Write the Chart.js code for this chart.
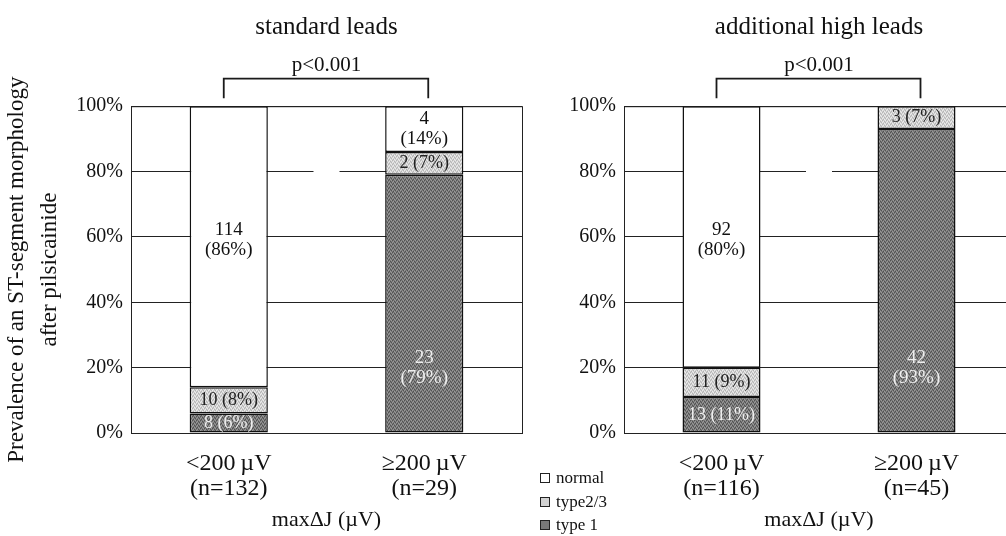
<!DOCTYPE html>
<html>
<head>
<meta charset="utf-8">
<script src="https://cdn.jsdelivr.net/npm/chart.js@4/dist/chart.umd.min.js"></script>
<style>
  body{margin:0;background:#fff;}
  #wrap{position:relative;width:1006px;height:536px;overflow:hidden;background:#fff;}
  .pane{position:absolute;top:0;}
  #legend{position:absolute;left:540px;top:466px;font:17px "Liberation Serif","DejaVu Serif",serif;color:#111;line-height:23.5px;}
  #legend span.sw{display:inline-block;width:8px;height:8px;border:1px solid #222;margin-right:6px;vertical-align:0px;}
</style>
</head>
<body>
<div id="wrap">
  <div class="pane" style="left:0"><canvas id="grafStd" width="530" height="536"></canvas></div>
  <div class="pane" style="left:530px"><canvas id="grafHigh" width="500" height="536"></canvas></div>
  <div id="legend"></div>
</div>
<script>
// categories (x axis, two lines each)
const catStd = [['<200\u2009µV','(n=132)'], ['≥200\u2009µV','(n=29)']];
const catHigh = [['<200\u2009µV','(n=116)'], ['≥200\u2009µV','(n=45)']];
const seriesNames = ['type 1','type2/3','normal'];
const yTicks = [0,20,40,60,80,100];

// standard leads: % of patients (bar height) and patient counts
const stdType1 = [6, 79];
const stdType23 = [8, 7];
const stdNormal = [86, 14];
const stdCntType1 = [8, 23];
const stdCntType23 = [10, 2];
const stdCntNormal = [114, 4];

// additional high leads
const highType1 = [11, 93];
const highType23 = [9, 7];
const highNormal = [80, 0];
const highCntType1 = [13, 42];
const highCntType23 = [11, 3];
const highCntNormal = [92, 0];

const FONT = '"Liberation Serif","DejaVu Serif",serif';
const INK = '#111';

// grainy fill like a scanned halftone
function grain(base, dark, light){
  let c = document.createElement('canvas'); c.width = c.height = 4;
  let g = c.getContext('2d');
  g.fillStyle = base; g.fillRect(0,0,4,4);
  g.fillStyle = dark; [[0,0],[2,1],[1,3],[3,2]].forEach(p=>g.fillRect(p[0],p[1],1,1));
  g.fillStyle = light; [[2,3],[0,2],[3,0],[1,1]].forEach(p=>g.fillRect(p[0],p[1],1,1));
  return g.createPattern(c,'repeat');
}
const fillType1 = grain('#787878','#525252','#9a9a9a');
const fillType23 = grain('#d2d2d2','#b4b4b4','#ececec');

// plot frame + the small break in the 80% line
const frame = {
  id:'frame',
  beforeDatasetsDraw(chart){
    let {ctx, chartArea:a} = chart;
    let y80 = chart.scales.y.getPixelForValue(80);
    let cx = (a.left+a.right)/2;
    ctx.save();
    ctx.fillStyle = '#fff';
    ctx.fillRect(cx-13, y80-2, 26, 4);
    ctx.strokeStyle = '#222'; ctx.lineWidth = 1;
    ctx.strokeRect(a.left+0.5, a.top+0.5, a.right-a.left, a.bottom-a.top);
    ctx.restore();
  }
};

// counts and percentages written into the segments
const barLabels = {
  id:'barLabels',
  afterDatasetsDraw(chart){
    let ctx = chart.ctx, ys = chart.scales.y;
    ctx.save();
    ctx.textAlign = 'center'; ctx.textBaseline = 'middle';
    chart.data.datasets.forEach((ds,di)=>{
      chart.getDatasetMeta(di).data.forEach((bar,i)=>{
        let v = ds.data[i];
        if(!v) return;
        let cy = v > 40 ? ys.getPixelForValue(ds.bigLabelAt) : (bar.y+bar.base)/2;
        let lines = v >= 12 ? [String(ds.counts[i]), '('+v+'%)'] : [ds.counts[i]+' ('+v+'%)'];
        ctx.fillStyle = ds.labelColor;
        ctx.font = (v >= 12 ? 19 : 18)+'px '+FONT;
        let lh = 20, y0 = cy - (lines.length-1)*lh/2;
        lines.forEach((t,k)=>ctx.fillText(t, bar.x, y0+k*lh));
      });
    });
    ctx.restore();
  }
};

// significance bracket between the two bars
const bracket = {
  id:'bracket',
  afterDraw(chart){
    let {ctx, chartArea:a} = chart, xs = chart.scales.x;
    let x1 = xs.getPixelForValue(0)-5, x2 = xs.getPixelForValue(1)+4;
    let yTop = a.top-27.5, yEnd = a.top-8;
    ctx.save();
    ctx.strokeStyle = '#1a1a1a'; ctx.lineWidth = 1.8;
    ctx.beginPath();
    ctx.moveTo(x1,yEnd); ctx.lineTo(x1,yTop); ctx.lineTo(x2,yTop); ctx.lineTo(x2,yEnd);
    ctx.stroke();
    ctx.restore();
  }
};

function makeDatasets(t1, t23, nor, c1, c23, cn){
  return [
    {label:seriesNames[0], data:t1, counts:c1, backgroundColor:fillType1, labelColor:'#eee', bigLabelAt:20},
    {label:seriesNames[1], data:t23, counts:c23, backgroundColor:fillType23, labelColor:'#222', bigLabelAt:50},
    {label:seriesNames[2], data:nor, counts:cn, backgroundColor:'#fff', labelColor:INK, bigLabelAt:59}
  ].map(d=>Object.assign(d,{borderColor:'#111', borderWidth:1.5, borderSkipped:false, barPercentage:0.4, categoryPercentage:1}));
}

function makeChart(id, title, cats, datasets, yAxisW, padRight, yTitle){
  return new Chart(document.getElementById(id).getContext('2d'), {
    type:'bar',
    data:{labels:cats, datasets:datasets},
    plugins:[frame, barLabels, bracket],
    options:{
      responsive:false, animation:false,
      layout:{padding:{left:0, right:padRight, top:0, bottom:0}},
      plugins:{
        legend:{display:false}, tooltip:{enabled:false},
        title:{display:true, text:title, fullSize:false, color:INK, font:{family:FONT, size:25, weight:'normal'}, padding:{top:12, bottom:11}},
        subtitle:{display:true, text:'p<0.001', fullSize:false, color:INK, font:{family:FONT, size:21}, padding:{top:0, bottom:28}}
      },
      scales:{
        x:{
          stacked:true,
          grid:{display:false}, border:{display:false},
          ticks:{color:INK, font:{family:FONT, size:24, lineHeight:1.05}, padding:10, maxRotation:0},
          title:{display:true, text:'maxΔJ (µV)', color:INK, font:{family:FONT, size:22}, padding:{top:0, bottom:3}},
          afterFit(s){ s.height = 103; }
        },
        y:{
          stacked:true, min:0, max:100,
          afterBuildTicks(s){ s.ticks = yTicks.map(v=>({value:v})); },
          grid:{color:'#222', lineWidth:1, drawTicks:false}, border:{display:false},
          ticks:{color:INK, font:{family:FONT, size:20}, padding:8, callback:v=>v+'%'},
          title:{display:!!yTitle, text:yTitle||'', color:INK, font:{family:FONT, size:23, lineHeight:1.43}, padding:{top:1, bottom:0}},
          afterFit(s){ s.width = yAxisW; }
        }
      }
    }
  });
}

window.grafStd = makeChart('grafStd', 'standard leads', catStd,
  makeDatasets(stdType1, stdType23, stdNormal, stdCntType1, stdCntType23, stdCntNormal), 131, 8,
  ['Prevalence of an ST-segment morphology','after pilsicainide']);
window.grafHigh = makeChart('grafHigh', 'additional high leads', catHigh,
  makeDatasets(highType1, highType23, highNormal, highCntType1, highCntType23, highCntNormal), 94, 16, null);

// legend, top entry first
const swatch = ['#787878','#d2d2d2','#fff'];
document.getElementById('legend').innerHTML = seriesNames.map((n,i)=>
  `<div><span class="sw" style="background:${swatch[i]}"></span>${n}</div>`).reverse().join('');
</script>
</body>
</html>
